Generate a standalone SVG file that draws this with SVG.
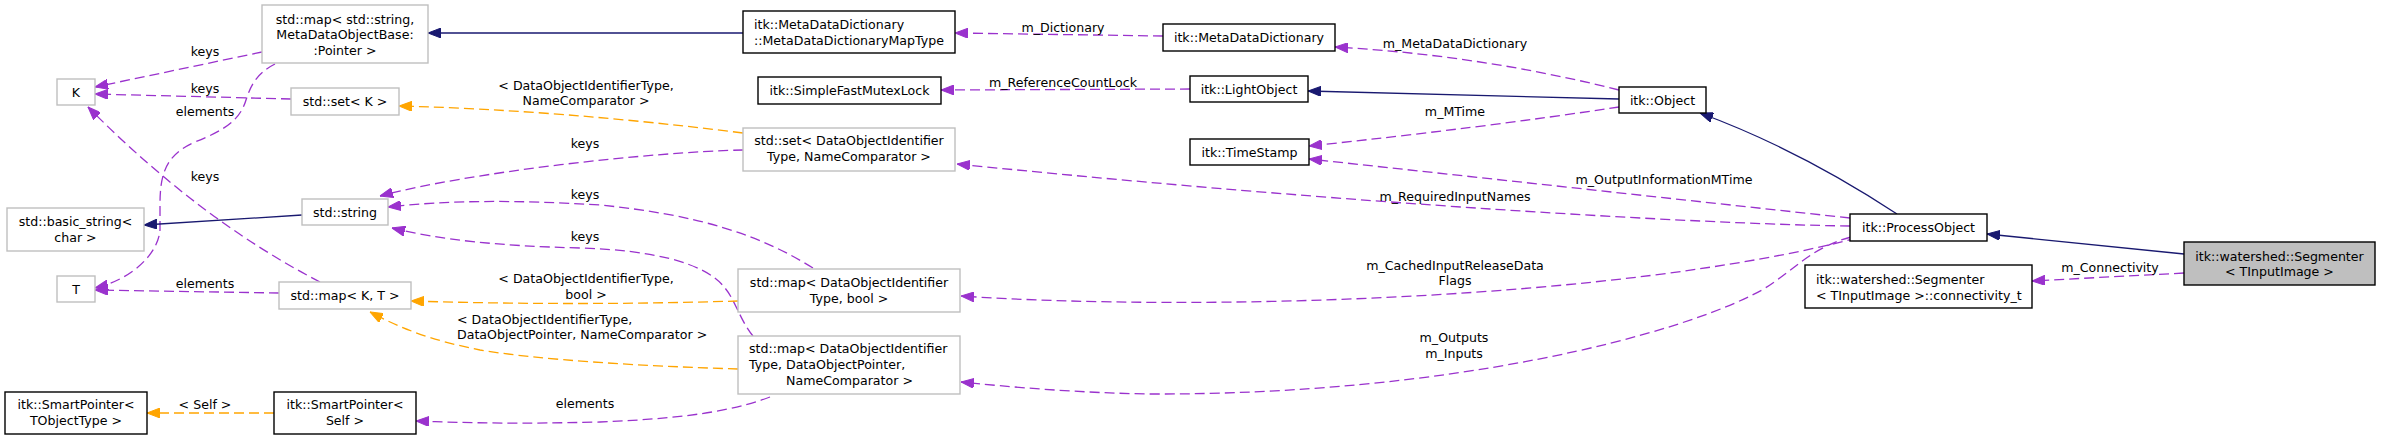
<svg xmlns="http://www.w3.org/2000/svg" width="2381" height="440" viewBox="0 0 2381 440">
<style>
text{font-family:"DejaVu Sans","Liberation Sans",sans-serif;font-size:12.6px;fill:#000}
.c{text-anchor:middle}
.l{text-anchor:start}
.n{fill:#fff;stroke:#000;stroke-width:1.4}
.g{fill:#fff;stroke:#bfbfbf;stroke-width:1.4}
.h{fill:#bfbfbf;stroke:#000;stroke-width:1.4}
.e{fill:none;stroke-width:1.3}
.inh{stroke:#191970;marker-end:url(#ab)}
.use{stroke:#9a32cd;stroke-dasharray:10,5;marker-end:url(#ap)}
.tpl{stroke:#ffa500;stroke-dasharray:10,5;marker-end:url(#ao)}
</style>
<defs>
<marker id="ab" markerUnits="userSpaceOnUse" viewBox="0 0 13 10" refX="13" refY="5" markerWidth="13" markerHeight="10" orient="auto"><path d="M0,0 L13,5 L0,10 z" fill="#191970" stroke="#191970"/></marker>
<marker id="ap" markerUnits="userSpaceOnUse" viewBox="0 0 13 10" refX="13" refY="5" markerWidth="13" markerHeight="10" orient="auto"><path d="M0,0 L13,5 L0,10 z" fill="#9a32cd" stroke="#9a32cd"/></marker>
<marker id="ao" markerUnits="userSpaceOnUse" viewBox="0 0 13 10" refX="13" refY="5" markerWidth="13" markerHeight="10" orient="auto"><path d="M0,0 L13,5 L0,10 z" fill="#ffa500" stroke="#ffa500"/></marker>
</defs>
<rect width="2381" height="440" fill="#fff"/>
<g id="connectors">
<path class="e inh" d="M2184,254 L1987,234"/>
<path class="e use" d="M2184,273 L2032,281"/>
<text class="c" x="2110" y="271.5">m_Connectivity</text>
<path class="e inh" d="M1897,214 Q1800,150 1700,113"/>
<path class="e inh" d="M1619,99 L1308,91"/>
<path class="e use" d="M1619,90 Q1480,55 1335,47"/>
<text class="c" x="1455" y="47.5">m_MetaDataDictionary</text>
<path class="e use" d="M1619,107 Q1480,128 1309,146"/>
<text class="c" x="1455" y="115.5">m_MTime</text>
<path class="e use" d="M1850,218 L1309,159"/>
<text class="c" x="1664" y="183.5">m_OutputInformationMTime</text>
<path class="e use" d="M1850,226 C1700,224 1350,204 957,164"/>
<text class="c" x="1455" y="200.5">m_RequiredInputNames</text>
<path class="e use" d="M1857,238 C1620,300 1200,312 961,296"/>
<text class="c" x="1455" y="269.5">m_CachedInputReleaseData</text>
<text class="c" x="1455" y="284.5">Flags</text>
<path class="e use" d="M1851,237 C1810,248 1795,270 1762,290 C1680,335 1450,395 1150,394 C1080,393 1010,387 961,382"/>
<text class="c" x="1454" y="341.5">m_Outputs</text>
<text class="c" x="1454" y="357.5">m_Inputs</text>
<path class="e use" d="M1163,36 L955,33"/>
<text class="c" x="1063" y="31.5">m_Dictionary</text>
<path class="e use" d="M1190,89 L941,90"/>
<text class="c" x="1063" y="86.5">m_ReferenceCountLock</text>
<path class="e inh" d="M743,33 L428,33"/>
<path class="e use" d="M262,52 L95,87"/>
<text class="c" x="205" y="55.5">keys</text>
<path class="e use" d="M275,64 C255,74 250,88 246,100 C240,120 225,130 195,142 C165,155 160,175 160,205 L160,230 C158,255 130,280 95,288"/>
<text class="c" x="205" y="115.5">elements</text>
<path class="e use" d="M291,99 L95,94"/>
<text class="c" x="205" y="92.5">keys</text>
<path class="e tpl" d="M743,133 Q560,110 399,106"/>
<text class="c" x="586" y="89.5">&lt; DataObjectIdentifierType,</text>
<text class="c" x="586" y="104.5">NameComparator &gt;</text>
<path class="e use" d="M743,150 C650,152 470,172 380,196"/>
<text class="c" x="585" y="147.5">keys</text>
<path class="e use" d="M813,268 C760,235 700,215 600,205 C520,200 450,200 388,207"/>
<text class="c" x="585" y="198.5">keys</text>
<path class="e use" d="M753,336 C740,320 735,300 725,288 C705,262 650,250 580,248 C500,246 440,240 392,228"/>
<text class="c" x="585" y="240.5">keys</text>
<path class="e use" d="M320,282 Q200,220 88,107"/>
<text class="c" x="205" y="180.5">keys</text>
<path class="e use" d="M279,293 L95,290"/>
<text class="c" x="205" y="287.5">elements</text>
<path class="e inh" d="M302,215 L144,225"/>
<path class="e tpl" d="M738,301 Q575,306 411,301"/>
<text class="c" x="586" y="282.5">&lt; DataObjectIdentifierType,</text>
<text class="c" x="586" y="298.5">bool &gt;</text>
<path class="e tpl" d="M738,369 C640,366 540,360 480,350 C430,340 400,328 370,312"/>
<text class="l" x="457" y="323.5">&lt; DataObjectIdentifierType,</text>
<text class="l" x="457" y="338.5">DataObjectPointer, NameComparator &gt;</text>
<path class="e use" d="M770,397 C740,408 700,418 600,422 C520,424 470,423 416,421"/>
<text class="c" x="585" y="407.5">elements</text>
<path class="e tpl" d="M274,413 L147,413"/>
<text class="c" x="205" y="408.5">&lt; Self &gt;</text>
</g>
<g id="node-segmenter"><rect class="h" x="2184" y="242" width="191" height="43"/><text class="c" x="2279.5" y="260.5">itk::watershed::Segmenter</text><text class="c" x="2279.5" y="275.5">&lt; TInputImage &gt;</text></g>
<g id="node-processobject"><rect class="n" x="1850" y="214" width="137" height="27"/><text class="c" x="1918.5" y="232">itk::ProcessObject</text></g>
<g id="node-connectivity"><rect class="n" x="1805" y="265" width="227" height="43"/><text class="l" x="1816" y="283.5">itk::watershed::Segmenter</text><text class="l" x="1816" y="299.5">&lt; TInputImage &gt;::connectivity_t</text></g>
<g id="node-object"><rect class="n" x="1619" y="87" width="87" height="26"/><text class="c" x="1662.5" y="104.5">itk::Object</text></g>
<g id="node-lightobject"><rect class="n" x="1190" y="76" width="118" height="26"/><text class="c" x="1249" y="93.5">itk::LightObject</text></g>
<g id="node-metadatadictionary"><rect class="n" x="1163" y="24" width="172" height="27"/><text class="c" x="1249" y="42">itk::MetaDataDictionary</text></g>
<g id="node-timestamp"><rect class="n" x="1190" y="139" width="119" height="26"/><text class="c" x="1249.5" y="156.5">itk::TimeStamp</text></g>
<g id="node-mutexlock"><rect class="n" x="758" y="77" width="183" height="27"/><text class="c" x="849.5" y="95">itk::SimpleFastMutexLock</text></g>
<g id="node-maptype"><rect class="n" x="743" y="11" width="212" height="42"/><text class="l" x="754" y="28.5">itk::MetaDataDictionary</text><text class="l" x="754" y="44.5">::MetaDataDictionaryMapType</text></g>
<g id="node-map-string"><rect class="g" x="262" y="5" width="166" height="58"/><text class="c" x="345" y="23.5">std::map&lt; std::string,</text><text class="c" x="345" y="39">MetaDataObjectBase:</text><text class="c" x="345" y="55">:Pointer &gt;</text></g>
<g id="node-k"><rect class="g" x="57" y="79" width="38" height="26"/><text class="c" x="76" y="96.5">K</text></g>
<g id="node-t"><rect class="g" x="57" y="276" width="38" height="26"/><text class="c" x="76" y="293.5">T</text></g>
<g id="node-set-k"><rect class="g" x="291" y="88" width="108" height="27"/><text class="c" x="345" y="106">std::set&lt; K &gt;</text></g>
<g id="node-set-doit"><rect class="g" x="743" y="128" width="212" height="43"/><text class="c" x="849" y="144.5">std::set&lt; DataObjectIdentifier</text><text class="c" x="849" y="160.5">Type, NameComparator &gt;</text></g>
<g id="node-string"><rect class="g" x="302" y="199" width="86" height="26"/><text class="c" x="345" y="216.5">std::string</text></g>
<g id="node-basic-string"><rect class="g" x="7" y="208" width="137" height="43"/><text class="c" x="75.5" y="226">std::basic_string&lt;</text><text class="c" x="75.5" y="242">char &gt;</text></g>
<g id="node-map-kt"><rect class="g" x="279" y="282" width="132" height="27"/><text class="c" x="345" y="300">std::map&lt; K, T &gt;</text></g>
<g id="node-map-bool"><rect class="g" x="738" y="269" width="222" height="43"/><text class="c" x="849" y="286.5">std::map&lt; DataObjectIdentifier</text><text class="c" x="849" y="302.5">Type, bool &gt;</text></g>
<g id="node-map-dop"><rect class="g" x="738" y="336" width="222" height="58"/><text class="l" x="749" y="352.5">std::map&lt; DataObjectIdentifier</text><text class="l" x="749" y="368.5">Type, DataObjectPointer,</text><text class="c" x="849.5" y="385">NameComparator &gt;</text></g>
<g id="node-smartpointer-self"><rect class="n" x="274" y="392" width="142" height="42"/><text class="c" x="345" y="408.5">itk::SmartPointer&lt;</text><text class="c" x="345" y="424.5">Self &gt;</text></g>
<g id="node-smartpointer-tobj"><rect class="n" x="5" y="392" width="142" height="42"/><text class="c" x="76" y="408.5">itk::SmartPointer&lt;</text><text class="c" x="76" y="424.5">TObjectType &gt;</text></g>
</svg>
